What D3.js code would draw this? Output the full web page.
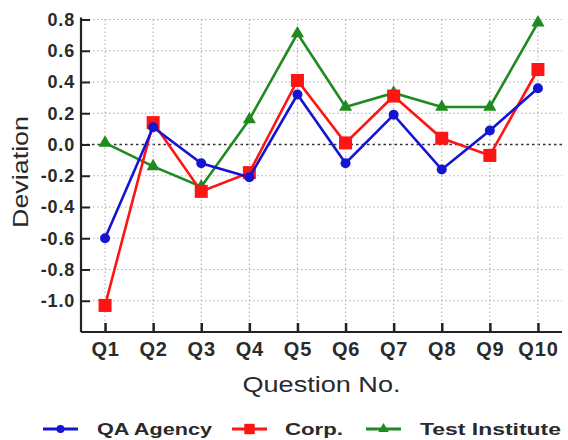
<!DOCTYPE html>
<html>
<head>
<meta charset="utf-8">
<script src="https://cdn.jsdelivr.net/npm/d3@7"></script>
<style>
  html, body { margin: 0; padding: 0; background: #fff; }
  svg { display: block; }
  text { font-family: "Liberation Sans", Arial, sans-serif; fill: #2a2a2a; }
</style>
</head>
<body>
<svg id="chart" width="568" height="440"></svg>
<script>
const categories = ["Q1", "Q2", "Q3", "Q4", "Q5", "Q6", "Q7", "Q8", "Q9", "Q10"];
const qaAgency = [-0.60, 0.11, -0.12, -0.21, 0.32, -0.12, 0.19, -0.16, 0.09, 0.36];
const corp = [-1.03, 0.14, -0.30, -0.18, 0.41, 0.01, 0.31, 0.04, -0.07, 0.48];
const testInstitute = [0.01, -0.14, -0.27, 0.16, 0.71, 0.24, 0.33, 0.24, 0.24, 0.78];
const yTicks = [-1.0, -0.8, -0.6, -0.4, -0.2, 0.0, 0.2, 0.4, 0.6, 0.8];
const seriesNames = ["QA Agency", "Corp.", "Test Institute"];

const svg = d3.select("#chart");
const pLeft = 81, pRight = 562, pTop = 19.5, pBottom = 332;

const x = d3.scalePoint().domain(categories).range([pLeft, pRight]).padding(0.5);
const y = d3.scaleLinear().domain([-1.2, 0.8]).range([pBottom, pTop]);

// grid
const grid = svg.append("g");
grid.selectAll("line.h").data(yTicks).join("line")
  .attr("x1", pLeft).attr("x2", pRight)
  .attr("y1", d => y(d)).attr("y2", d => y(d))
  .attr("stroke", d => d === 0 ? "#333" : "#a8a8a8")
  .attr("stroke-width", d => d === 0 ? 1.3 : 1)
  .attr("stroke-dasharray", d => d === 0 ? "2.5,3" : "1.5,2.5");
grid.selectAll("line.v").data(categories).join("line")
  .attr("x1", d => x(d)).attr("x2", d => x(d))
  .attr("y1", pTop).attr("y2", pBottom)
  .attr("stroke", "#a8a8a8").attr("stroke-width", 1)
  .attr("stroke-dasharray", "1.5,2.5");

// axes
const yAxis = d3.axisLeft(y).tickValues(yTicks).tickSize(-9).tickPadding(6)
  .tickFormat(d => d3.format(".1f")(d).replace("−", "-"));
const yg = svg.append("g").attr("transform", `translate(${pLeft},0)`).call(yAxis);
yg.select(".domain").attr("d", `M0,${pTop - 2}V${pBottom}`).attr("stroke", "#222").attr("stroke-width", 2.2);
yg.selectAll(".tick line").attr("stroke", "#222").attr("stroke-width", 2);
yg.selectAll(".tick text").attr("font-size", 18).attr("font-weight", "bold")
  .attr("letter-spacing", "0.8px")
  .attr("font-family", "Liberation Sans, Arial, sans-serif").attr("fill", "#2a2a2a");

const xAxis = d3.axisBottom(x).tickSize(-9).tickPadding(14);
const xg = svg.append("g").attr("transform", `translate(0,${pBottom})`).call(xAxis);
xg.select(".domain").attr("d", `M${pLeft},0H${pRight}`).attr("stroke", "#222").attr("stroke-width", 2.2);
xg.selectAll(".tick line").attr("stroke", "#222").attr("stroke-width", 2.5);
xg.selectAll(".tick text").attr("font-size", 20).attr("font-weight", "bold")
  .attr("letter-spacing", "0.8px")
  .attr("font-family", "Liberation Sans, Arial, sans-serif").attr("fill", "#2a2a2a")
  .attr("dy", "0.71em").attr("y", 10);

// titles
svg.append("text").attr("x", (pLeft + pRight) / 2).attr("y", 392)
  .attr("text-anchor", "middle").attr("font-size", 22)
  .attr("textLength", 158).attr("lengthAdjust", "spacingAndGlyphs")
  .text("Question No.");
svg.append("text").attr("transform", "translate(28,172) rotate(-90)")
  .attr("text-anchor", "middle").attr("font-size", 22)
  .attr("textLength", 112).attr("lengthAdjust", "spacingAndGlyphs")
  .text("Deviation");

// series
const series = [
  { name: seriesNames[2], values: testInstitute, color: "#1f8a1f", marker: "triangle" },
  { name: seriesNames[1], values: corp, color: "#ff1414", marker: "square" },
  { name: seriesNames[0], values: qaAgency, color: "#1414d2", marker: "circle" }
];
const line = d3.line().x((d, i) => x(categories[i])).y(d => y(d));
function drawMarker(g, type, color, scale) {
  if (type === "circle") {
    g.append("circle").attr("r", 5 * scale).attr("fill", color);
  } else if (type === "square") {
    const s = 13 * scale;
    g.append("rect").attr("x", -s / 2).attr("y", -s / 2).attr("width", s).attr("height", s).attr("fill", color);
  } else {
    g.append("path").attr("d", d3.symbol(d3.symbolTriangle, 75 * scale * scale)()).attr("fill", color);
  }
}
series.forEach(s => {
  svg.append("path").datum(s.values).attr("d", line)
    .attr("fill", "none").attr("stroke", s.color).attr("stroke-width", 2.6);
  s.values.forEach((v, i) => {
    const g = svg.append("g").attr("transform", `translate(${x(categories[i])},${y(v)})`);
    drawMarker(g, s.marker, s.color, 1);
  });
});

// legend
const legend = [
  { name: seriesNames[0], color: "#1414d2", marker: "circle", lx: 43, tx: 97, tl: 115 },
  { name: seriesNames[1], color: "#ff1414", marker: "square", lx: 232, tx: 285, tl: 58 },
  { name: seriesNames[2], color: "#1f8a1f", marker: "triangle", lx: 366, tx: 420, tl: 141 }
];
const ly = 429;
legend.forEach(l => {
  svg.append("line").attr("x1", l.lx).attr("x2", l.lx + 35).attr("y1", ly).attr("y2", ly)
    .attr("stroke", l.color).attr("stroke-width", 3);
  const g = svg.append("g").attr("transform", `translate(${l.lx + 17.5},${ly})`);
  drawMarker(g, l.marker, l.color, 0.8);
  svg.append("text").attr("x", l.tx).attr("y", ly + 6).attr("font-size", 17).attr("font-weight", "bold")
    .attr("textLength", l.tl).attr("lengthAdjust", "spacingAndGlyphs").text(l.name);
});
</script>
</body>
</html>
